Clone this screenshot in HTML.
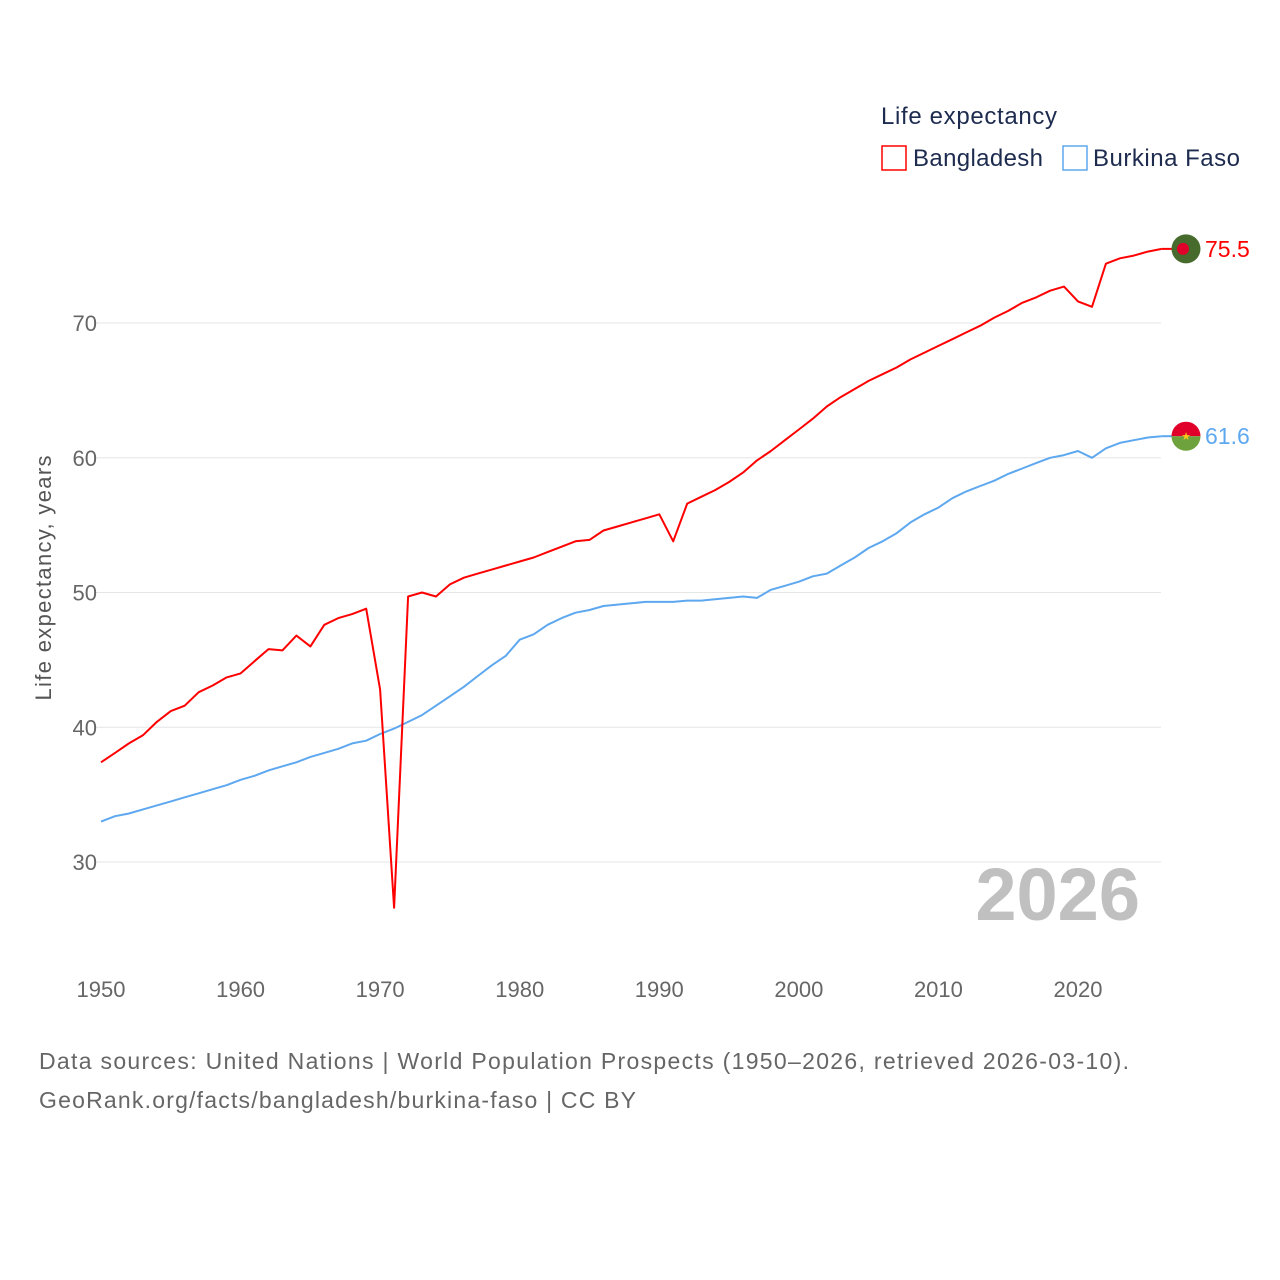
<!DOCTYPE html>
<html><head><meta charset="utf-8"><style>
body{margin:0;background:#fff;}
svg{display:block;font-family:"Liberation Sans",sans-serif;}
</style></head><body>
<svg id="chart" width="1280" height="1280">
<text x="881" y="124" font-size="24" fill="#1d2b4f" textLength="176" lengthAdjust="spacing">Life expectancy</text>
<rect x="882" y="146" width="24" height="24" fill="none" stroke="#ff0000" stroke-width="1.5"/>
<text x="913" y="166" font-size="24" fill="#1d2b4f" textLength="130" lengthAdjust="spacing">Bangladesh</text>
<rect x="1063" y="146" width="24" height="24" fill="none" stroke="#5ea8f0" stroke-width="1.5"/>
<text x="1093" y="166" font-size="24" fill="#1d2b4f" textLength="147" lengthAdjust="spacing">Burkina Faso</text>
<text transform="translate(51,578) rotate(-90)" text-anchor="middle" font-size="22" fill="#555" textLength="245" lengthAdjust="spacing">Life expectancy, years</text>
<text x="1140" y="920" text-anchor="end" font-size="74" font-weight="bold" fill="#c0c0c0">2026</text>
<text x="39" y="1069" font-size="23" fill="#666" textLength="1090" lengthAdjust="spacing">Data sources: United Nations | World Population Prospects (1950–2026, retrieved 2026-03-10).</text>
<text x="39" y="1108" font-size="23" fill="#666" textLength="597" lengthAdjust="spacing">GeoRank.org/facts/bangladesh/burkina-faso | CC BY</text>
<g id="grid"></g><g id="lines"></g>
</svg>
<script>
const years=[];for(let y=1950;y<=2026;y++)years.push(y);
const yTicks=[30,40,50,60,70];
const xTicks=[1950,1960,1970,1980,1990,2000,2010,2020];
const bangladesh=[37.4,38.1,38.8,39.4,40.4,41.2,41.6,42.6,43.1,43.7,44.0,44.9,45.8,45.7,46.8,46.0,47.6,48.1,48.4,48.8,42.8,26.6,49.7,50.0,49.7,50.6,51.1,51.4,51.7,52.0,52.3,52.6,53.0,53.4,53.8,53.9,54.6,54.9,55.2,55.5,55.8,53.8,56.6,57.1,57.6,58.2,58.9,59.8,60.5,61.3,62.1,62.9,63.8,64.5,65.1,65.7,66.2,66.7,67.3,67.8,68.3,68.8,69.3,69.8,70.4,70.9,71.5,71.9,72.4,72.7,71.6,71.2,74.4,74.8,75.0,75.3,75.5];
const burkina=[33.0,33.4,33.6,33.9,34.2,34.5,34.8,35.1,35.4,35.7,36.1,36.4,36.8,37.1,37.4,37.8,38.1,38.4,38.8,39.0,39.5,39.9,40.4,40.9,41.6,42.3,43.0,43.8,44.6,45.3,46.5,46.9,47.6,48.1,48.5,48.7,49.0,49.1,49.2,49.3,49.3,49.3,49.4,49.4,49.5,49.6,49.7,49.6,50.2,50.5,50.8,51.2,51.4,52.0,52.6,53.3,53.8,54.4,55.2,55.8,56.3,57.0,57.5,57.9,58.3,58.8,59.2,59.6,60.0,60.2,60.5,60.0,60.7,61.1,61.3,61.5,61.6];
const NS='http://www.w3.org/2000/svg';
const X=y=>101+(y-1950)*(977/70);
const Y=v=>862-(v-30)*(539/40);
const grid=document.getElementById('grid'),lines=document.getElementById('lines');
function mk(tag,at,parent){const e=document.createElementNS(NS,tag);for(const k in at)e.setAttribute(k,at[k]);parent.appendChild(e);return e;}
yTicks.forEach(t=>{
 const l=mk('line',{x1:95,x2:1161,y1:Y(t),y2:Y(t),stroke:'#e6e6e6','stroke-width':1},grid);
 
 
 const tx=mk('text',{x:97,y:Y(t)+8,'text-anchor':'end','font-size':22,fill:'#666'},grid);tx.textContent=t;
 
 
});
xTicks.forEach(t=>{
 const tx=mk('text',{x:X(t),y:997,'text-anchor':'middle','font-size':22,fill:'#666'},grid);tx.textContent=t;
 
 
});
function series(vals,color,name){
 const d=vals.map((v,i)=>(i?'L':'M')+X(years[i]).toFixed(1)+','+Y(v).toFixed(1)).join('');
 const p=mk('path',{d:d,fill:'none',stroke:color,'stroke-width':2,'stroke-linejoin':'round'},lines);
 
 
 const last=vals[vals.length-1],lx=X(years[years.length-1]),ly=Y(last);
 mk('line',{x1:lx,x2:1172,y1:ly,y2:ly,stroke:color,'stroke-width':2},lines);
 const g=mk('g',{},lines);
 
 
 if(name==='bangladesh'){
  mk('circle',{cx:1186,cy:ly,r:14.5,fill:'#466b2c'},g);
  mk('circle',{cx:1183,cy:ly,r:6,fill:'#e0002a'},g);
 }else{
  mk('path',{d:`M1171.5,${ly} A14.5,14.5 0 0 1 1200.5,${ly} Z`,fill:'#e0002a'},g);
  mk('path',{d:`M1171.5,${ly} A14.5,14.5 0 0 0 1200.5,${ly} Z`,fill:'#6ea23c'},g);
  const s=mk('text',{x:1186,y:ly+4,'text-anchor':'middle','font-size':11,fill:'#f5c518'},g);s.textContent='★';
 }
 const t=mk('text',{x:1205,y:ly+8,'font-size':23,fill:color},lines);t.textContent=last.toFixed(1);
 
 
}
series(burkina,'#5ea8f0','burkina-faso');
series(bangladesh,'#ff0000','bangladesh');
</script>
</body></html>
